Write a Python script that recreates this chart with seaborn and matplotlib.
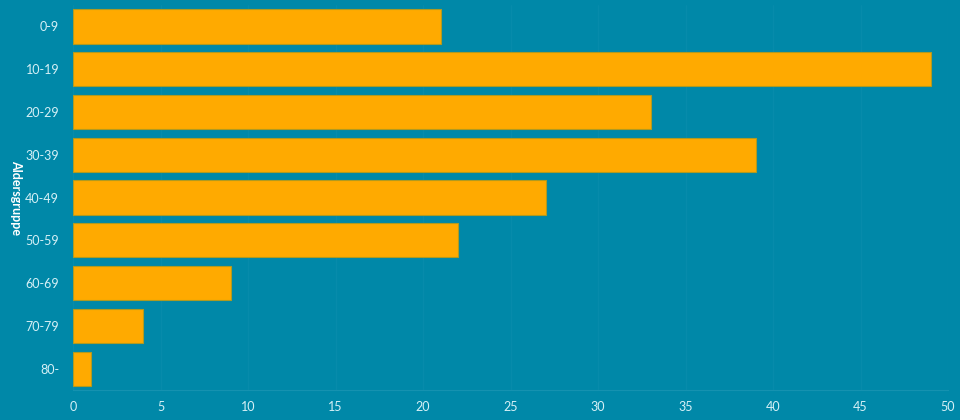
import matplotlib
matplotlib.use("Agg")
import matplotlib.pyplot as plt
import seaborn as sns
import pandas as pd

# data
groups = ['0-9', '10-19', '20-29', '30-39', '40-49', '50-59', '60-69', '70-79', '80-']
counts = [21, 49, 33, 39, 27, 22, 9, 4, 1]

df = pd.DataFrame({'Aldersgruppe': groups, 'Antal': counts})

bg = '#0088a8'
txt = '#d6f0f6'

sns.set_style('white')
plt.rcParams['font.family'] = ['Lato', 'DejaVu Sans']

fig = plt.figure(figsize=(9.6, 4.2), dpi=100, facecolor=bg)
ax = fig.add_axes([73/960, 30/420, 875/960, 385/420])
ax.set_facecolor(bg)

sns.barplot(data=df, x='Antal', y='Aldersgruppe', color='#ffaa00', saturation=1,
            width=0.8, edgecolor='#b09a20', linewidth=0.8, ax=ax, zorder=3)

ax.set_xlim(0, 50)
ax.set_xticks(range(0, 51, 5))
ax.grid(axis='x', color='#078bab', linewidth=1, zorder=0)
ax.grid(axis='y', visible=False)
for s in ['top', 'right', 'left']:
    ax.spines[s].set_visible(False)
ax.spines['bottom'].set_color('#1592b0')
ax.tick_params(axis='both', length=0, colors=txt, labelsize=9)
ax.tick_params(axis='x', pad=8)
ax.tick_params(axis='y', pad=10)
ax.set_xlabel('')
ax.set_ylabel('Aldersgruppe', color='white', fontsize=9, fontweight='bold',
              rotation=-90)
ax.yaxis.set_label_coords(-63/875, 0.5)

fig.savefig('out.png', dpi=100, facecolor=bg)
